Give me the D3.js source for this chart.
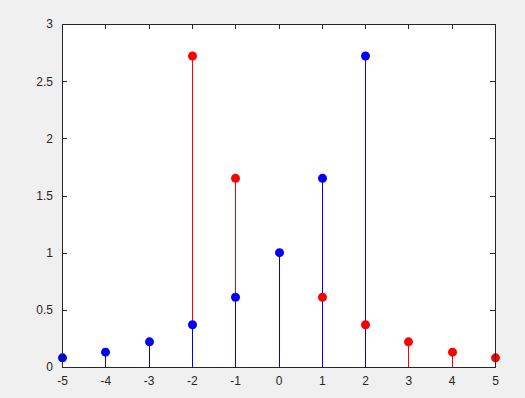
<!DOCTYPE html>
<html>
<head>
<meta charset="utf-8">
<script src="https://cdn.jsdelivr.net/npm/d3@7"></script>
<style>
  body { margin: 0; background: #f0f0f0; }
  svg { display: block; }
  .tick text { font-family: "Liberation Sans", Arial, sans-serif; font-size: 12px; fill: #262626; }
</style>
</head>
<body>
<div id="chart"></div>
<script>
// data
var xs = [-5, -4, -3, -2, -1, 0, 1, 2, 3, 4, 5];
var blueX = [-5, -4, -3, -2, -1, 0, 1, 2];
var blueY = [0.08, 0.13, 0.22, 0.37, 0.61, 1.0, 1.65, 2.72];
var redX = [-2, -1, 1, 2, 3, 4, 5];
var redY = [2.72, 1.65, 0.61, 0.37, 0.22, 0.13, 0.08];
var yTicks = [0, 0.5, 1, 1.5, 2, 2.5, 3];

var W = 525, H = 398;
var margin = { top: 24, right: 30, bottom: 31, left: 62 };
var width = W - margin.left - margin.right,
    height = H - margin.top - margin.bottom;

var svg = d3.select("#chart").append("svg")
  .attr("width", W).attr("height", H);

svg.append("rect").attr("width", W).attr("height", H).attr("fill", "#f0f0f0");

var g = svg.append("g")
  .attr("transform", "translate(" + margin.left + "," + margin.top + ")");

g.append("rect").attr("width", width).attr("height", height).attr("fill", "#fff");

var x = d3.scaleLinear().domain([-5, 5]).range([0, width]);
var y = d3.scaleLinear().domain([0, 3]).range([height, 0]);

var axisColor = "#262626";

function styleAxis(sel, showText) {
  sel.select(".domain").remove();
  sel.selectAll(".tick line").attr("stroke", axisColor).attr("shape-rendering", "crispEdges");
  if (!showText) sel.selectAll(".tick text").remove();
}

// bottom / left with labels, top / right just ticks (inward)
g.append("g").attr("transform", "translate(0," + height + ")")
  .call(d3.axisBottom(x).tickValues(xs).tickSize(-5).tickPadding(9).tickFormat(function (d) { return String(d); }))
  .call(function (s) { styleAxis(s, true); });
g.append("g")
  .call(d3.axisTop(x).tickValues(xs).tickSize(-5).tickFormat(""))
  .call(function (s) { styleAxis(s, false); });
g.append("g")
  .call(d3.axisLeft(y).tickValues(yTicks).tickSize(-5).tickPadding(9).tickFormat(function (d) { return String(d); }))
  .call(function (s) { styleAxis(s, true); });
g.append("g").attr("transform", "translate(" + width + ",0)")
  .call(d3.axisRight(y).tickValues(yTicks).tickSize(-5).tickFormat(""))
  .call(function (s) { styleAxis(s, false); });

var red = redX.map(function (d, i) { return { x: d, y: redY[i] }; });
var blue = blueX.map(function (d, i) { return { x: d, y: blueY[i] }; });

// snap stems to pixel centres so they stay a clean 1px line
function px(v) { return Math.round(v) + 0.5; }

function stems(data, color) {
  g.append("g").selectAll("line").data(data).enter().append("line")
    .attr("x1", function (d) { return px(x(d.x)); })
    .attr("x2", function (d) { return px(x(d.x)); })
    .attr("y1", y(0))
    .attr("y2", function (d) { return y(d.y); })
    .attr("stroke", color).attr("stroke-width", 1);
}
function markers(data, color) {
  g.append("g").selectAll("circle").data(data).enter().append("circle")
    .attr("cx", function (d) { return px(x(d.x)); })
    .attr("cy", function (d) { return y(d.y); })
    .attr("r", 4.5)
    .attr("fill", color);
}

stems(red, "#ff0000");
stems(blue, "#0000ff");
markers(red, "#ff0000");
markers(blue, "#0000ff");

// box
g.append("rect").attr("width", width).attr("height", height)
  .attr("fill", "none").attr("stroke", axisColor).attr("stroke-width", 1)
  .attr("shape-rendering", "crispEdges");
</script>
</body>
</html>
